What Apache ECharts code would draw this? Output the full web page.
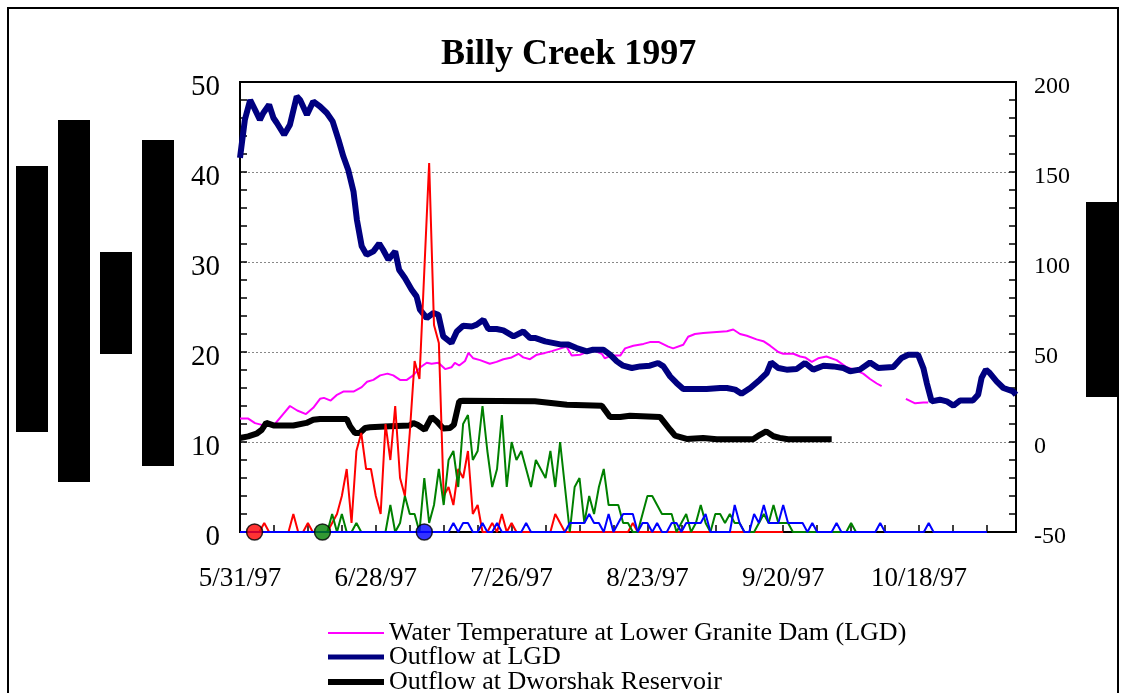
<!DOCTYPE html>
<html>
<head>
<meta charset="utf-8">
<script src="https://cdn.jsdelivr.net/npm/echarts@6.0.0/dist/echarts.min.js"></script>
<style>
  html, body { margin: 0; padding: 0; background: #fff; }
  #chart { width: 1122px; height: 693px; }
</style>
</head>
<body>
<div id="chart"></div>
<script>
// day 0 = 5/31/97, x axis runs in days
var dateLabels = ['5/31/97', '6/28/97', '7/26/97', '8/23/97', '9/20/97', '10/18/97'];

// water temperature at LGD (left axis), [day, value]
var tempLGD = [
  [0, 12.6], [1.7, 12.6], [3.1, 12.1], [4.5, 11.9], [7.2, 12], [8.9, 13.1], [10.3, 14], [11.8, 13.5],
  [13.6, 13.1], [15.1, 13.8], [16.5, 14.8], [17.3, 14.9], [18.7, 14.6], [19.9, 15.2], [21.3, 15.6],
  [23.4, 15.6], [25.1, 16.1], [26.2, 16.7], [27.5, 16.9], [28.9, 17.4], [30.4, 17.6], [31.6, 17.4],
  [33, 16.9], [34.4, 16.9], [35.7, 17.4], [37.2, 18.3], [38.5, 18.8], [39.5, 18.7], [40.9, 18.8],
  [42.3, 18.1], [43.6, 18.3], [44.3, 18.8], [45.2, 18.5], [46.4, 19], [47.1, 19.9], [48.1, 19.3],
  [49.5, 19.1], [51.5, 18.7], [52.9, 18.9], [54.3, 19.2], [56, 19.4], [57.4, 19.8], [58.4, 19.4],
  [59.8, 19.2], [61.2, 19.7], [62.9, 19.9], [64.3, 20.1], [67.3, 20.6], [68.4, 19.6], [70.1, 19.7],
  [71.1, 19.9], [72.8, 20.2], [74.6, 19.8], [75.2, 19.3], [76.6, 19.6], [78.4, 19.6], [79.4, 20.4],
  [81.1, 20.7], [83.2, 20.9], [84.5, 21.1], [86.4, 21.1], [88.3, 20.6], [89.3, 20.4], [91.4, 20.8],
  [92.4, 21.7], [93.8, 22], [95.5, 22.1], [97.6, 22.2], [100.4, 22.3], [101.7, 22.5], [103.1, 22],
  [104.5, 21.8], [106.5, 21.4], [107.9, 21.2], [109.3, 20.7], [111, 20], [112, 19.8], [114.1, 19.8],
  [115.5, 19.5], [116.5, 19.4], [117.9, 18.9], [119.2, 19.3], [120.9, 19.5], [123, 19.1], [125.1, 18.3],
  [126.4, 18.1], [128.5, 17.6], [129.9, 17], [131.3, 16.5], [132.3, 16.2], [134.5, '-'],
  [137.3, 14.8], [139.2, 14.3], [140.9, 14.4], [141.9, 14.4]
];

// outflow at LGD (right axis), [day, value]
var outflowLGD = [
  [0, 157.8], [1, 179], [2.1, 190], [3.1, 184.6], [4.1, 179], [4.8, 182.8], [6, 187.4], [6.9, 180],
  [7.6, 177.2], [9.1, 170.7], [10.3, 176.3], [11.7, 192], [12.4, 190], [13.8, 181.8], [15.1, 189.2],
  [16.5, 186.4], [17.9, 182.8], [19.1, 178.1], [20.3, 168], [21.3, 158.7], [22.3, 151.3], [23.4, 139.2],
  [24.1, 123.5], [25.1, 108.7], [26.1, 104], [27.5, 105.9], [28.7, 110.2], [29.5, 106.8], [30.6, 101.3],
  [32, 105.9], [32.8, 95.7], [34, 91.1], [35.4, 84.6], [36.4, 80.9], [37.1, 73.5], [38.5, 68.9],
  [39.9, 71.7], [40.9, 70.7], [41.9, 58.7], [43.6, 55], [44.7, 61.4], [46, 64.6], [47.8, 64.2],
  [48.8, 65.2], [50.2, 67.9], [51.2, 62.8], [52.9, 62.8], [54.3, 62], [56.4, 58.7], [58.4, 61.4],
  [59.8, 57.8], [60.8, 57.8], [62.9, 55.9], [66.3, 54.1], [67.7, 54.1], [69.4, 52.2], [71.5, 50.3],
  [72.8, 51.3], [74.9, 51.3], [76.3, 48.5], [77.7, 44.8], [79, 42.4], [80.8, 41.1], [82.5, 42],
  [84.5, 42.4], [86.2, 43.9], [87.3, 42], [88.7, 36.4], [90, 32.8], [91.4, 29.4], [96.2, 29.4],
  [99, 30], [100.4, 30], [102.1, 29.1], [103.4, 26.8], [105.2, 30], [107.2, 34.6], [108.6, 38.3],
  [109.5, 44.2], [111, 41.1], [112.7, 40.2], [114.8, 40.6], [116.5, 43.9], [118.2, 40.2], [120.3, 42.4],
  [122.3, 42], [124.4, 41.1], [125.8, 39.3], [127.8, 40.2], [129.9, 44.2], [131.6, 41.1], [134.7, 41.7],
  [136.4, 46.7], [137.8, 48.5], [139.8, 48.5], [140.9, 41.1], [141.6, 32.8], [142.6, 22.6], [144.3, 23.5],
  [145.7, 22.6], [147.1, 20.2], [148.5, 23.1], [151.1, 23.1], [152.2, 26.3], [152.9, 35.6], [153.8, 40.2],
  [154.6, 38.3], [156, 33.7], [157.4, 30], [159.4, 28.1], [160, 26.3]
];

// outflow at Dworshak (right axis), [day, value]
var outflowDworshak = [
  [0, 2.2], [1.7, 3.1], [3.4, 4.6], [4.5, 6.8], [5.4, 10.6], [6.9, 9.2], [11, 9.2], [13.7, 10.6],
  [15.1, 12.4], [16.5, 12.8], [22, 12.8], [22.7, 8.7], [23.7, 5], [24.7, 5], [25.8, 7.8], [26.8, 8.2],
  [30.9, 8.7], [35, 9.2], [35.7, 10.6], [36.6, 9.6], [38.1, 6.8], [39.5, 13.9], [40.6, 11.4],
  [41.9, 7.5], [43.3, 7.8], [44.1, 9.6], [45.2, 22.6], [46, 22.9], [60.8, 22.6], [63.2, 22],
  [67.4, 20.7], [74.6, 20.2], [76.3, 13.9], [78.4, 13.9], [80.4, 14.6], [86.6, 13.9], [88.7, 6.8],
  [89.7, 3.5], [92.1, 1.7], [95.5, 2.2], [98.3, 1.5], [105.8, 1.5], [107.2, 4], [108.5, 5.9],
  [110, 3.2], [111.3, 2.3], [113, 1.5], [122, 1.5]
];

// daily counts (left axis), index = day
var redCounts = [
  0, 0, 0, 0, 0, 1, 0, 0, 0, 0,
  0, 2, 0, 0, 1, 0, 0, 0, 0, 1,
  2, 4, 7, 1, 9, 11, 7, 7, 4, 2,
  12, 8, 14, 6, 4, 11, 19, 17, 29, 41,
  23, 21, 4, 5, 3, 7, 6, 9, 2, 3,
  0, 0, 1, 0, 2, 0, 1, 0, 0, 0,
  0, 0, 0, 0, 0, 2, 1, 0, 0, 0,
  0, 0, 0, 0, 0, 0, 0, 0, 0, 0,
  0, 1, 0, 0, 0, 0, 0, 0, 0, 0,
  0, 0, 0, 0, 0, 0, 0, 0, 0, 0,
  0, 0, 0, 0, 0, 0, 0, 0, 0, 0,
  0, 0, 0
];
var greenCounts = [
  0, 0, 0, 0, 0, 0, 0, 0, 0, 0,
  0, 0, 0, 0, 0, 0, 0, 0, 0, 2,
  0, 2, 0, 0, 1, 0, 0, 0, 0, 0,
  0, 3, 0, 1, 4, 2, 2, 0, 6, 1,
  3, 7, 3, 8, 9, 5, 12, 13, 8, 9,
  14, 9, 5, 7, 13, 5, 10, 8, 9, 7,
  5, 8, 7, 6, 9, 5, 10, 5, 0, 5,
  6, 1, 4, 2, 5, 7, 3, 3, 3, 1,
  1, 0, 0, 2, 4, 4, 3, 2, 2, 2,
  0, 1, 2, 0, 1, 3, 1, 0, 2, 2,
  1, 2, 1, 1, 0, 0, 0, 1, 2, 1,
  3, 1, 1, 1, 0, 0, 0, 0, 0, 0,
  0, 0, 0, 0, 0, 0, 1, 0, 0
];
var blueCounts = [
  0, 0, 0, 0, 0, 0, 0, 0, 0, 0,
  0, 0, 0, 0, 0, 0, 0, 0, 0, 0,
  0, 0, 0, 0, 0, 0, 0, 0, 0, 0,
  0, 0, 0, 0, 0, 0, 0, 0, 0, 0,
  0, 0, 0, 0, 1, 0, 1, 1, 0, 0,
  1, 0, 0, 1, 0, 0, 0, 0, 0, 1,
  0, 0, 0, 0, 0, 0, 0, 0, 1, 1,
  1, 1, 2, 1, 1, 0, 2, 0, 1, 2,
  2, 2, 0, 1, 1, 0, 1, 0, 0, 1,
  1, 0, 1, 1, 1, 1, 2, 0, 0, 0,
  0, 0, 3, 1, 0, 0, 2, 1, 3, 1,
  1, 1, 3, 1, 1, 1, 1, 0, 1, 0,
  0, 0, 0, 1, 0, 0, 0, 0, 0, 0,
  0, 0, 1, 0, 0, 0, 0, 0, 0, 0,
  0, 0, 1, 0, 0, 0, 0, 0, 0, 0,
  0, 0, 0, 0, 0
];
// start-day markers on the zero line
var markerDays = [3, 17, 38];

var serif = '"Liberation Serif", "Times New Roman", serif';

function byDay(vals) {
  return vals.map(function (v, i) { return [i, v]; });
}

(function () {
  var myChart = echarts.init(document.getElementById('chart'), null, { renderer: 'canvas' });
  var legendBase = {
    orient: 'vertical',
    left: 328,
    padding: 0,
    itemGap: 0,
    itemWidth: 56,
    icon: 'rect',
    selectedMode: false,
    textStyle: { fontFamily: serif, fontSize: 26, lineHeight: 24, color: '#000' }
  };
  var option = {
    animation: false,
    backgroundColor: '#fff',
    title: {
      text: 'Billy Creek 1997',
      left: 441,
      top: 37,
      padding: 0,
      textStyle: { fontFamily: serif, fontSize: 36, fontWeight: 'bold', color: '#000' }
    },
    legend: [
      Object.assign({}, legendBase, { top: 620, itemHeight: 2, data: ['Water Temperature at Lower Granite Dam (LGD)'] }),
      Object.assign({}, legendBase, { top: 644, itemHeight: 5, data: ['Outflow at LGD'] }),
      Object.assign({}, legendBase, { top: 669, itemHeight: 6, data: ['Outflow at Dworshak Reservoir'] })
    ],
    grid: {
      left: 240,
      right: 106,
      top: 82,
      bottom: 161,
      show: true,
      borderColor: '#000',
      borderWidth: 2
    },
    xAxis: {
      type: 'value',
      min: 0,
      max: 160,
      interval: 7,
      axisLine: { show: true, lineStyle: { color: '#000', width: 2 } },
      axisTick: { inside: true, length: 7, lineStyle: { color: '#000', width: 1.5 } },
      splitLine: { show: false },
      axisLabel: {
        margin: 33,
        fontFamily: serif,
        fontSize: 27,
        color: '#000',
        formatter: function (v) {
          return v % 28 === 0 ? dateLabels[v / 28] : '';
        }
      }
    },
    yAxis: [
      {
        type: 'value',
        min: 0,
        max: 50,
        interval: 10,
        position: 'left',
        axisLine: { show: true, lineStyle: { color: '#000', width: 2 } },
        axisTick: { inside: true, length: 7, lineStyle: { color: '#000', width: 1.5 } },
        minorTick: { show: true, splitNumber: 5, length: 7, lineStyle: { color: '#000', width: 1.5 } },
        splitLine: { show: true, showMinLine: false, showMaxLine: false, lineStyle: { color: '#888', width: 1, type: [2, 2] } },
        axisLabel: {
          margin: 20,
          formatter: function (v) { return '{t|' + v + '}'; },
          rich: { t: { fontFamily: serif, fontSize: 29, color: '#000', padding: [10, 0, 0, 0] } }
        }
      },
      {
        type: 'value',
        min: -50,
        max: 200,
        interval: 50,
        position: 'right',
        axisLine: { show: true, lineStyle: { color: '#000', width: 2 } },
        axisTick: { inside: true, length: 7, lineStyle: { color: '#000', width: 1.5 } },
        minorTick: { show: true, splitNumber: 5, length: 7, lineStyle: { color: '#000', width: 1.5 } },
        splitLine: { show: false },
        axisLabel: {
          margin: 18,
          formatter: function (v) { return '{t|' + v + '}'; },
          rich: { t: { fontFamily: serif, fontSize: 24, color: '#000', padding: [10, 0, 0, 0] } }
        }
      }
    ],
    graphic: [
      { type: 'rect', shape: { x: 8, y: 8, width: 1110, height: 700 }, style: { fill: 'none', stroke: '#000', lineWidth: 2 }, silent: true },
      { type: 'rect', shape: { x: 16, y: 166, width: 32, height: 266 }, style: { fill: '#000' }, silent: true },
      { type: 'rect', shape: { x: 58, y: 120, width: 32, height: 362 }, style: { fill: '#000' }, silent: true },
      { type: 'rect', shape: { x: 100, y: 252, width: 32, height: 102 }, style: { fill: '#000' }, silent: true },
      { type: 'rect', shape: { x: 142, y: 140, width: 32, height: 326 }, style: { fill: '#000' }, silent: true },
      { type: 'rect', shape: { x: 1086, y: 202, width: 32, height: 195 }, style: { fill: '#000' }, silent: true }
    ],
    series: [
      {
        name: 'Water Temperature at Lower Granite Dam (LGD)',
        type: 'line',
        yAxisIndex: 0,
        data: tempLGD,
        symbol: 'none',
        color: '#ff00ff',
        lineStyle: { color: '#ff00ff', width: 2 }
      },
      {
        name: 'Outflow at LGD',
        type: 'line',
        yAxisIndex: 1,
        data: outflowLGD,
        symbol: 'none',
        color: '#000080',
        lineStyle: { color: '#000080', width: 6 }
      },
      {
        name: 'Outflow at Dworshak Reservoir',
        type: 'line',
        yAxisIndex: 1,
        data: outflowDworshak,
        symbol: 'none',
        color: '#000',
        lineStyle: { color: '#000', width: 6 }
      },
      {
        name: 'Red group',
        type: 'line',
        yAxisIndex: 0,
        data: byDay(redCounts),
        symbol: 'none',
        color: '#ff0000',
        lineStyle: { color: '#ff0000', width: 2 }
      },
      {
        name: 'Green group',
        type: 'line',
        yAxisIndex: 0,
        data: byDay(greenCounts),
        symbol: 'none',
        color: '#008000',
        lineStyle: { color: '#008000', width: 2 }
      },
      {
        name: 'Blue group',
        type: 'line',
        yAxisIndex: 0,
        data: byDay(blueCounts),
        symbol: 'none',
        color: '#0000ff',
        lineStyle: { color: '#0000ff', width: 2 }
      },
      {
        name: 'Start',
        type: 'scatter',
        yAxisIndex: 0,
        clip: false,
        symbolSize: 16,
        z: 5,
        data: markerDays.map(function (d) { return [d, 0]; }),
        itemStyle: {
          borderColor: '#000',
          borderWidth: 1.5,
          color: function (p) {
            return ['#ff0000', '#008000', '#0000ff'][p.dataIndex];
          }
        }
      }
    ]
  };
  myChart.setOption(option);
  window.addEventListener('resize', function () {
    myChart.resize();
  });
})();
</script>
</body>
</html>
